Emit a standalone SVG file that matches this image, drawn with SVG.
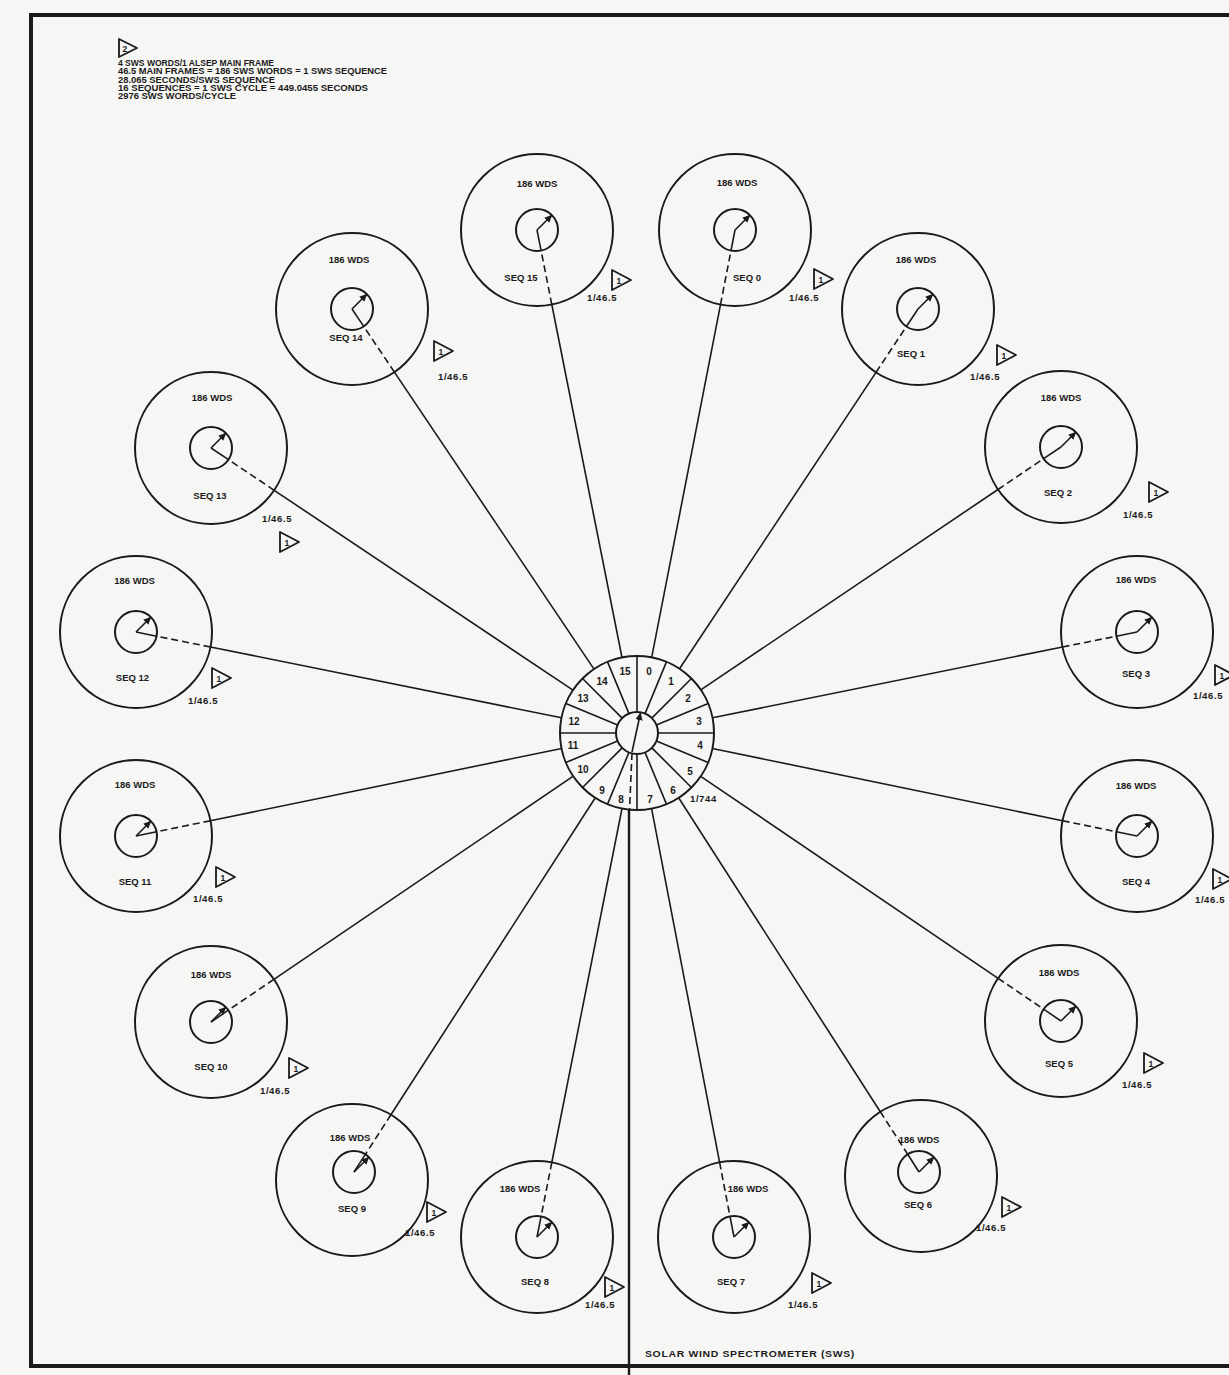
<svg xmlns="http://www.w3.org/2000/svg" xmlns:xlink="http://www.w3.org/1999/xlink" width="1229" height="1375" viewBox="0 0 1229 1375">
<style>
.c{fill:none;stroke:#1a1a1a;stroke-width:2}
.l{fill:none;stroke:#1a1a1a;stroke-width:1.6}
.d{fill:none;stroke:#1a1a1a;stroke-width:1.6;stroke-dasharray:7 4}
.p{fill:none;stroke:#1a1a1a;stroke-width:1.6;marker-end:url(#ah)}
.tri{fill:none;stroke:#1a1a1a;stroke-width:1.8;stroke-linejoin:round}
text{font-family:"Liberation Sans",Arial,sans-serif;font-weight:bold;fill:#1a1a1a}
.t{font-size:9.5px;text-anchor:middle}
.n{font-size:10px;text-anchor:middle}
.r{font-size:9.5px;letter-spacing:0.6px}
.k{font-size:8.5px}
.g{font-size:8.6px}
</style>
<defs>
<marker id="ah" viewBox="0 0 10 10" refX="9" refY="5" markerWidth="8" markerHeight="8" markerUnits="userSpaceOnUse" orient="auto"><path d="M0,0.5 L10,5 L0,9.5 z" fill="#1a1a1a"/></marker>
<polygon id="tr" points="0,0 19,10 0,20"/>
</defs>
<rect width="1229" height="1375" fill="#f6f6f4"/>
<g id="frame"><path d="M1229,15 H31 V1366 H1229" fill="none" stroke="#1a1a1a" stroke-width="4"/></g>

<g id="legend">
<polygon class="tri" points="119,39 137,48 119,57"/>
<text class="k" x="122.5" y="51.5">2</text>
<text class="g" x="118" y="66" textLength="156" lengthAdjust="spacingAndGlyphs">4 SWS WORDS/1 ALSEP MAIN FRAME</text>
<text class="g" x="118" y="74.3" textLength="269" lengthAdjust="spacingAndGlyphs">46.5 MAIN FRAMES = 186 SWS WORDS = 1 SWS SEQUENCE</text>
<text class="g" x="118" y="82.6" textLength="157" lengthAdjust="spacingAndGlyphs">28.065 SECONDS/SWS SEQUENCE</text>
<text class="g" x="118" y="91" textLength="250" lengthAdjust="spacingAndGlyphs">16 SEQUENCES = 1 SWS CYCLE = 449.0455 SECONDS</text>
<text class="g" x="118" y="99.3" textLength="118" lengthAdjust="spacingAndGlyphs">2976 SWS WORDS/CYCLE</text>
</g>

<g id="connectors">
<line class="l" x1="651.7" y1="657.4" x2="720.5" y2="304.6"/><line class="d" x1="720.5" y1="304.6" x2="731.0" y2="250.6"/><line class="l" x1="731.0" y1="250.6" x2="735" y2="230"/>
<line class="l" x1="679.5" y1="668.8" x2="876.0" y2="372.4"/><line class="d" x1="876.0" y1="372.4" x2="906.4" y2="326.5"/><line class="l" x1="906.4" y1="326.5" x2="918" y2="309"/>
<line class="l" x1="700.8" y1="689.9" x2="998.0" y2="489.5"/><line class="d" x1="998.0" y1="489.5" x2="1043.6" y2="458.7"/><line class="l" x1="1043.6" y1="458.7" x2="1061" y2="447"/>
<line class="l" x1="712.5" y1="717.8" x2="1062.5" y2="647.0"/><line class="d" x1="1062.5" y1="647.0" x2="1116.4" y2="636.2"/><line class="l" x1="1116.4" y1="636.2" x2="1137" y2="632"/>
<line class="l" x1="712.4" y1="748.5" x2="1062.6" y2="820.7"/><line class="d" x1="1062.6" y1="820.7" x2="1116.4" y2="831.8"/><line class="l" x1="1116.4" y1="831.8" x2="1137" y2="836"/>
<line class="l" x1="700.7" y1="776.3" x2="998.1" y2="978.3"/><line class="d" x1="998.1" y1="978.3" x2="1043.6" y2="1009.2"/><line class="l" x1="1043.6" y1="1009.2" x2="1061" y2="1021"/>
<line class="l" x1="678.6" y1="797.8" x2="880.3" y2="1111.8"/><line class="d" x1="880.3" y1="1111.8" x2="907.7" y2="1154.3"/><line class="l" x1="907.7" y1="1154.3" x2="919" y2="1172"/>
<line class="l" x1="651.6" y1="808.6" x2="719.6" y2="1162.4"/><line class="d" x1="719.6" y1="1162.4" x2="730.0" y2="1216.4"/><line class="l" x1="730.0" y1="1216.4" x2="734" y2="1237"/>
<line class="l" x1="622.0" y1="808.5" x2="551.8" y2="1162.5"/><line class="d" x1="551.8" y1="1162.5" x2="541.1" y2="1216.4"/><line class="l" x1="541.1" y1="1216.4" x2="537" y2="1237"/>
<line class="l" x1="595.3" y1="797.7" x2="390.9" y2="1114.8"/><line class="d" x1="390.9" y1="1114.8" x2="365.4" y2="1154.4"/><line class="l" x1="365.4" y1="1154.4" x2="354" y2="1172"/>
<line class="l" x1="573.3" y1="776.2" x2="273.9" y2="979.3"/><line class="d" x1="273.9" y1="979.3" x2="228.4" y2="1010.2"/><line class="l" x1="228.4" y1="1010.2" x2="211" y2="1022"/>
<line class="l" x1="561.6" y1="748.5" x2="210.4" y2="820.7"/><line class="d" x1="210.4" y1="820.7" x2="156.6" y2="831.8"/><line class="l" x1="156.6" y1="831.8" x2="136" y2="836"/>
<line class="l" x1="561.5" y1="717.8" x2="210.5" y2="647.0"/><line class="d" x1="210.5" y1="647.0" x2="156.6" y2="636.2"/><line class="l" x1="156.6" y1="636.2" x2="136" y2="632"/>
<line class="l" x1="573.0" y1="690.2" x2="274.2" y2="490.3"/><line class="d" x1="274.2" y1="490.3" x2="228.5" y2="459.7"/><line class="l" x1="228.5" y1="459.7" x2="211" y2="448"/>
<line class="l" x1="594.0" y1="669.1" x2="394.4" y2="372.1"/><line class="d" x1="394.4" y1="372.1" x2="363.7" y2="326.4"/><line class="l" x1="363.7" y1="326.4" x2="352" y2="309"/>
<line class="l" x1="622.0" y1="657.5" x2="551.8" y2="304.5"/><line class="d" x1="551.8" y1="304.5" x2="541.1" y2="250.6"/><line class="l" x1="541.1" y1="250.6" x2="537" y2="230"/>
<line class="d" x1="632" y1="753" x2="629.5" y2="810"/>
<line x1="629" y1="810" x2="629" y2="1375" stroke="#1a1a1a" stroke-width="2.4"/>
</g>

<g id="hub">
<circle class="c" cx="637" cy="733" r="77"/>
<circle class="c" cx="637" cy="733" r="21"/>
<g transform="translate(637,733)">
<line class="l" x1="0" y1="-21" x2="0" y2="-77"/>
<line class="l" x1="0" y1="-21" x2="0" y2="-77" transform="rotate(22.5)"/>
<line class="l" x1="0" y1="-21" x2="0" y2="-77" transform="rotate(45)"/>
<line class="l" x1="0" y1="-21" x2="0" y2="-77" transform="rotate(67.5)"/>
<line class="l" x1="0" y1="-21" x2="0" y2="-77" transform="rotate(90)"/>
<line class="l" x1="0" y1="-21" x2="0" y2="-77" transform="rotate(112.5)"/>
<line class="l" x1="0" y1="-21" x2="0" y2="-77" transform="rotate(135)"/>
<line class="l" x1="0" y1="-21" x2="0" y2="-77" transform="rotate(157.5)"/>
<line class="l" x1="0" y1="-21" x2="0" y2="-77" transform="rotate(180)"/>
<line class="l" x1="0" y1="-21" x2="0" y2="-77" transform="rotate(202.5)"/>
<line class="l" x1="0" y1="-21" x2="0" y2="-77" transform="rotate(225)"/>
<line class="l" x1="0" y1="-21" x2="0" y2="-77" transform="rotate(247.5)"/>
<line class="l" x1="0" y1="-21" x2="0" y2="-77" transform="rotate(270)"/>
<line class="l" x1="0" y1="-21" x2="0" y2="-77" transform="rotate(292.5)"/>
<line class="l" x1="0" y1="-21" x2="0" y2="-77" transform="rotate(315)"/>
<line class="l" x1="0" y1="-21" x2="0" y2="-77" transform="rotate(337.5)"/>
</g>
<line class="p" x1="632" y1="752" x2="640.5" y2="713"/>
<text class="n" x="649" y="674.5">0</text>
<text class="n" x="671" y="684.5">1</text>
<text class="n" x="688" y="701.5">2</text>
<text class="n" x="699" y="724.5">3</text>
<text class="n" x="700" y="749">4</text>
<text class="n" x="690" y="774.5">5</text>
<text class="n" x="673" y="793.5">6</text>
<text class="n" x="650" y="802.5">7</text>
<text class="n" x="621" y="802.5">8</text>
<text class="n" x="602" y="793.5">9</text>
<text class="n" x="583" y="772.5">10</text>
<text class="n" x="573" y="749">11</text>
<text class="n" x="574" y="724.5">12</text>
<text class="n" x="583" y="701.5">13</text>
<text class="n" x="602" y="684.5">14</text>
<text class="n" x="625" y="675">15</text>
<text class="r" x="690" y="802">1/744</text>
</g>

<g id="seq0">
<circle class="c" cx="735" cy="230" r="76"/><circle class="c" cx="735" cy="230" r="21"/>
<line class="p" x1="735" y1="230" x2="749.8" y2="215.2"/>
<text class="t" x="737" y="186">186 WDS</text><text class="t" x="747" y="280.5">SEQ 0</text>
<use href="#tr" x="814" y="269" class="tri"/><text class="k" x="818.5" y="283">1</text>
<text class="r" x="789" y="301">1/46.5</text>
</g>
<g id="seq1">
<circle class="c" cx="918" cy="309" r="76"/><circle class="c" cx="918" cy="309" r="21"/>
<line class="p" x1="918" y1="309" x2="932.8" y2="294.2"/>
<text class="t" x="916" y="262.5">186 WDS</text><text class="t" x="911" y="356.5">SEQ 1</text>
<use href="#tr" x="997" y="345" class="tri"/><text class="k" x="1001.5" y="359">1</text>
<text class="r" x="970" y="380">1/46.5</text>
</g>
<g id="seq2">
<circle class="c" cx="1061" cy="447" r="76"/><circle class="c" cx="1061" cy="447" r="21"/>
<line class="p" x1="1061" y1="447" x2="1075.8" y2="432.2"/>
<text class="t" x="1061" y="400.5">186 WDS</text><text class="t" x="1058" y="495.5">SEQ 2</text>
<use href="#tr" x="1149" y="482" class="tri"/><text class="k" x="1153.5" y="496">1</text>
<text class="r" x="1123" y="518">1/46.5</text>
</g>
<g id="seq3">
<circle class="c" cx="1137" cy="632" r="76"/><circle class="c" cx="1137" cy="632" r="21"/>
<line class="p" x1="1137" y1="632" x2="1151.8" y2="617.2"/>
<text class="t" x="1136" y="582.5">186 WDS</text><text class="t" x="1136" y="676.5">SEQ 3</text>
<use href="#tr" x="1215" y="665" class="tri"/><text class="k" x="1219.5" y="679">1</text>
<text class="r" x="1193" y="699">1/46.5</text>
</g>
<g id="seq4">
<circle class="c" cx="1137" cy="836" r="76"/><circle class="c" cx="1137" cy="836" r="21"/>
<line class="p" x1="1137" y1="836" x2="1151.8" y2="821.2"/>
<text class="t" x="1136" y="788.5">186 WDS</text><text class="t" x="1136" y="884.5">SEQ 4</text>
<use href="#tr" x="1213" y="869" class="tri"/><text class="k" x="1217.5" y="883">1</text>
<text class="r" x="1195" y="903">1/46.5</text>
</g>
<g id="seq5">
<circle class="c" cx="1061" cy="1021" r="76"/><circle class="c" cx="1061" cy="1021" r="21"/>
<line class="p" x1="1061" y1="1021" x2="1075.8" y2="1006.2"/>
<text class="t" x="1059" y="975.5">186 WDS</text><text class="t" x="1059" y="1066.5">SEQ 5</text>
<use href="#tr" x="1144" y="1053" class="tri"/><text class="k" x="1148.5" y="1067">1</text>
<text class="r" x="1122" y="1088">1/46.5</text>
</g>
<g id="seq6">
<circle class="c" cx="921" cy="1176" r="76"/><circle class="c" cx="919" cy="1172" r="21"/>
<line class="p" x1="919" y1="1172" x2="933.8" y2="1157.2"/>
<text class="t" x="919" y="1142.5">186 WDS</text><text class="t" x="918" y="1207.5">SEQ 6</text>
<use href="#tr" x="1002" y="1197" class="tri"/><text class="k" x="1006.5" y="1211">1</text>
<text class="r" x="976" y="1231">1/46.5</text>
</g>
<g id="seq7">
<circle class="c" cx="734" cy="1237" r="76"/><circle class="c" cx="734" cy="1237" r="21"/>
<line class="p" x1="734" y1="1237" x2="748.8" y2="1222.2"/>
<text class="t" x="748" y="1192">186 WDS</text><text class="t" x="731" y="1285">SEQ 7</text>
<use href="#tr" x="812" y="1273" class="tri"/><text class="k" x="816.5" y="1287">1</text>
<text class="r" x="788" y="1308">1/46.5</text>
</g>
<g id="seq8">
<circle class="c" cx="537" cy="1237" r="76"/><circle class="c" cx="537" cy="1237" r="21"/>
<line class="p" x1="537" y1="1237" x2="551.8" y2="1222.2"/>
<text class="t" x="520" y="1192">186 WDS</text><text class="t" x="535" y="1285">SEQ 8</text>
<use href="#tr" x="605" y="1277" class="tri"/><text class="k" x="609.5" y="1291">1</text>
<text class="r" x="585" y="1308">1/46.5</text>
</g>
<g id="seq9">
<circle class="c" cx="352" cy="1180" r="76"/><circle class="c" cx="354" cy="1172" r="21"/>
<line class="p" x1="354" y1="1172" x2="368.8" y2="1157.2"/>
<text class="t" x="350" y="1140.5">186 WDS</text><text class="t" x="352" y="1211.5">SEQ 9</text>
<use href="#tr" x="427" y="1202" class="tri"/><text class="k" x="431.5" y="1216">1</text>
<text class="r" x="405" y="1236">1/46.5</text>
</g>
<g id="seq10">
<circle class="c" cx="211" cy="1022" r="76"/><circle class="c" cx="211" cy="1022" r="21"/>
<line class="p" x1="211" y1="1022" x2="225.8" y2="1007.2"/>
<text class="t" x="211" y="977.5">186 WDS</text><text class="t" x="211" y="1069.5">SEQ 10</text>
<use href="#tr" x="289" y="1058" class="tri"/><text class="k" x="293.5" y="1072">1</text>
<text class="r" x="260" y="1094">1/46.5</text>
</g>
<g id="seq11">
<circle class="c" cx="136" cy="836" r="76"/><circle class="c" cx="136" cy="836" r="21"/>
<line class="p" x1="136" y1="836" x2="150.8" y2="821.2"/>
<text class="t" x="135" y="787.5">186 WDS</text><text class="t" x="135" y="884.5">SEQ 11</text>
<use href="#tr" x="216" y="867" class="tri"/><text class="k" x="220.5" y="881">1</text>
<text class="r" x="193" y="902">1/46.5</text>
</g>
<g id="seq12">
<circle class="c" cx="136" cy="632" r="76"/><circle class="c" cx="136" cy="632" r="21"/>
<line class="p" x1="136" y1="632" x2="150.8" y2="617.2"/>
<text class="t" x="134.5" y="584">186 WDS</text><text class="t" x="132.5" y="680.5">SEQ 12</text>
<use href="#tr" x="212" y="668" class="tri"/><text class="k" x="216.5" y="682">1</text>
<text class="r" x="188" y="704">1/46.5</text>
</g>
<g id="seq13">
<circle class="c" cx="211" cy="448" r="76"/><circle class="c" cx="211" cy="448" r="21"/>
<line class="p" x1="211" y1="448" x2="225.8" y2="433.2"/>
<text class="t" x="212" y="400.5">186 WDS</text><text class="t" x="210" y="499.3">SEQ 13</text>
<use href="#tr" x="280" y="532" class="tri"/><text class="k" x="284.5" y="546">1</text>
<text class="r" x="262" y="522">1/46.5</text>
</g>
<g id="seq14">
<circle class="c" cx="352" cy="309" r="76"/><circle class="c" cx="352" cy="309" r="21"/>
<line class="p" x1="352" y1="309" x2="366.8" y2="294.2"/>
<text class="t" x="349" y="262.5">186 WDS</text><text class="t" x="346" y="340.5">SEQ 14</text>
<use href="#tr" x="434" y="341" class="tri"/><text class="k" x="438.5" y="355">1</text>
<text class="r" x="438" y="380">1/46.5</text>
</g>
<g id="seq15">
<circle class="c" cx="537" cy="230" r="76"/><circle class="c" cx="537" cy="230" r="21"/>
<line class="p" x1="537" y1="230" x2="551.8" y2="215.2"/>
<text class="t" x="537" y="186.5">186 WDS</text><text class="t" x="521" y="280.5">SEQ 15</text>
<use href="#tr" x="612" y="270" class="tri"/><text class="k" x="616.5" y="284">1</text>
<text class="r" x="587" y="301">1/46.5</text>
</g>

<g id="caption">
<text class="r" x="645" y="1357" textLength="210" lengthAdjust="spacingAndGlyphs">SOLAR WIND SPECTROMETER (SWS)</text>
</g>
</svg>
